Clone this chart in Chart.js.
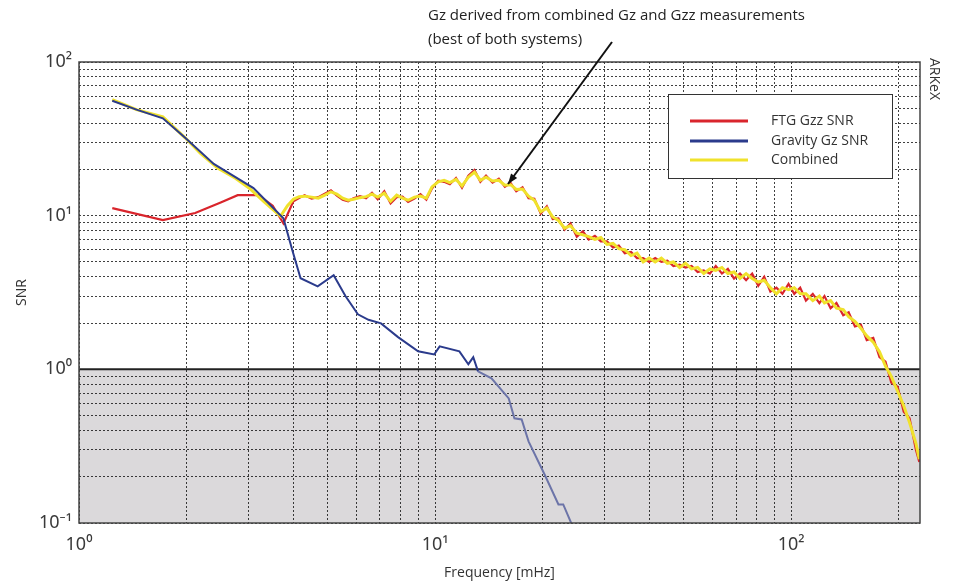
<!DOCTYPE html>
<html>
<head>
<meta charset="utf-8">
<title>SNR vs frequency</title>
<script src="https://cdn.jsdelivr.net/npm/chart.js@4.4.1/dist/chart.umd.min.js"></script>
<style>
  body { margin: 0; background: #fff; }
  canvas { display: block; }
</style>
</head>
<body>
<canvas id="snrChart" width="962" height="584"></canvas>
<script>
// Axis ticks
const xTicks = [1, 2, 3, 4, 5, 6, 7, 8, 9, 10, 20, 30, 40, 50, 60, 70, 80, 90, 100, 200];
const yTicks = [0.1, 0.2, 0.3, 0.4, 0.5, 0.6, 0.7, 0.8, 0.9, 1, 2, 3, 4, 5, 6, 7, 8, 9,
                10, 20, 30, 40, 50, 60, 70, 80, 90, 100];
const tickLabels = { "0.1": "10⁻¹", "1": "10⁰", "10": "10¹", "100": "10²" };

// Gravity Gz SNR
const freqGravity = [1.24, 1.45, 1.72, 1.99, 2.39, 3.09, 3.75, 3.98, 4.19, 4.68,
                     5.19, 5.6, 6.07, 6.5, 7.05, 7.87, 8.96, 9.94, 10.3, 11.7,
                     12.4, 12.8, 13.2, 14.4, 16.1, 16.7, 17.5, 18.3, 20.3, 22.2,
                     22.9, 24.2];
const snrGravity = [56, 49, 43, 32, 21.7, 15.1, 9.6, 5.87, 3.92, 3.47,
                    4.10, 3.0, 2.28, 2.1, 1.99, 1.62, 1.31, 1.25, 1.41, 1.31,
                    1.08, 1.20, 0.97, 0.874, 0.647, 0.48, 0.472, 0.34, 0.207, 0.132,
                    0.132, 0.098];

// low-frequency parts of FTG and combined curves
const freqFtgLow = [1.24, 1.72, 2.12, 2.5, 2.79, 3.19, 3.5, 3.75];
const snrFtgLow = [11.2, 9.35, 10.4, 12.2, 13.6, 13.6, 11.6, 8.9];
const freqCombLow = [1.24, 1.45, 1.72, 1.99, 2.19, 2.45, 2.75, 3.03, 3.3, 3.68, 3.85];
const snrCombLow = [57, 49, 44, 32, 25.5, 20.4, 17.5, 14.9, 12.4, 9.9, 11.6];

// shared frequencies above 4 mHz
const freqHigh = [4.0, 4.15, 4.3, 4.5, 4.7, 4.9, 5.1, 5.3, 5.5, 5.7,
  5.9, 6.15, 6.4, 6.65, 6.9, 7.2, 7.5, 7.8, 8.1, 8.4,
  8.75, 9.1, 9.45, 9.8, 10.2, 10.6, 11.0, 11.45, 11.9, 12.4,
  12.9, 13.4, 13.9, 14.5, 15.1, 15.7, 16.3, 16.9, 17.6, 18.3,
  19.0, 19.8, 20.6, 21.4, 22.2, 23.1, 24.0, 25.0, 26.0, 27.0,
  28.1, 29.2, 30.4, 31.6, 32.8, 34.1, 35.5, 36.9, 38.4, 39.9,
  41.5, 43.2, 44.9, 46.7, 48.6, 50.5, 52.5, 54.6, 56.8, 59.1,
  61.4, 63.9, 66.4, 69.1, 71.8, 74.7, 77.7, 80.8, 84.0, 87.4,
  90.9, 94.5, 98.3, 102, 106, 110, 115, 120, 124, 129,
  134, 140, 145, 151, 157, 163, 170, 177, 184, 191,
  199, 207, 215, 224, 229];
const snrCombHigh = [12.8, 13.3, 13.4, 13.2, 13.0, 13.6, 14.3, 13.8, 13.0, 12.6,
  12.8, 13.1, 13.3, 13.8, 13.2, 14.0, 12.4, 13.6, 13.0, 12.6,
  13.2, 13.4, 13.0, 15.4, 16.6, 17.0, 16.4, 17.2, 15.6, 17.8,
  19.2, 17.0, 17.8, 16.8, 17.0, 15.8, 15.9, 14.8, 14.9, 13.4,
  12.6, 10.6, 11.2, 9.8, 9.3, 8.3, 8.6, 7.7, 7.5, 7.3,
  7.0, 7.2, 6.5, 6.6, 6.1, 6.0, 5.5, 5.7, 5.0, 5.3,
  5.0, 5.3, 4.9, 5.0, 4.6, 4.9, 4.5, 4.6, 4.2, 4.5,
  4.4, 4.6, 4.2, 4.3, 3.9, 4.2, 3.9, 3.7, 3.8, 3.4,
  3.1, 3.4, 3.3, 3.4, 3.1, 3.1, 2.8, 3.0, 2.7, 2.8,
  2.5, 2.45, 2.2, 2.05, 1.85, 1.65, 1.5, 1.3, 1.05, 0.9,
  0.72, 0.58, 0.45, 0.33, 0.26];
const snrFtgHigh = [12.4, 13.0, 13.6, 12.9, 13.2, 13.9, 14.6, 13.5, 12.7, 12.4,
  13.0, 13.4, 13.0, 14.1, 12.8, 14.4, 12.0, 13.2, 13.3, 12.3,
  12.9, 13.8, 12.7, 15.0, 16.9, 16.6, 16.0, 17.6, 15.2, 18.2,
  19.8, 16.6, 18.2, 16.4, 17.4, 15.4, 16.3, 14.4, 15.3, 13.0,
  12.9, 10.3, 11.5, 9.5, 9.6, 8.1, 8.9, 7.3, 7.9, 7.0,
  7.4, 6.8, 6.8, 6.2, 6.4, 5.7, 5.8, 5.3, 5.3, 5.0,
  5.3, 5.0, 5.1, 4.7, 4.8, 4.6, 4.7, 4.3, 4.4, 4.2,
  4.7, 4.2, 4.5, 3.9, 4.2, 3.8, 4.2, 3.5, 4.0, 3.2,
  3.4, 3.1, 3.6, 3.1, 3.4, 2.8, 3.1, 2.7, 3.0, 2.5,
  2.7, 2.25, 2.35, 1.9, 1.95, 1.55, 1.6, 1.2, 1.12, 0.82,
  0.77, 0.53, 0.48, 0.3, 0.25];

const seriesNames = ["FTG Gzz SNR", "Gravity Gz SNR", "Combined"];
const seriesColors = ["#d9252c", "#2b3b8c", "#f0e22c"];

function toPoints(xs, ys) {
  return xs.map((x, i) => ({ x: x, y: ys[i] }));
}

const decor = {
  id: "decor",
  beforeDraw(chart) {
    const { ctx, chartArea: a, scales } = chart;
    const y1 = scales.y.getPixelForValue(1);
    ctx.save();
    ctx.fillStyle = "#dbd9db";
    ctx.fillRect(a.left, y1, a.right - a.left, a.bottom - y1);
    ctx.restore();
  },
  beforeDatasetsDraw(chart) {
    const { ctx, chartArea: a, scales } = chart;
    const y1 = scales.y.getPixelForValue(1);
    ctx.save();
    ctx.strokeStyle = "#222";
    ctx.lineWidth = 2;
    ctx.beginPath();
    ctx.moveTo(a.left, y1);
    ctx.lineTo(a.right, y1);
    ctx.stroke();
    ctx.restore();
  },
  afterDraw(chart) {
    const { ctx, chartArea: a } = chart;
    ctx.save();
    // plot frame
    ctx.strokeStyle = "#444";
    ctx.lineWidth = 1.5;
    ctx.strokeRect(a.left, a.top, a.right - a.left, a.bottom - a.top);

    // legend box
    ctx.fillStyle = "#fff";
    ctx.fillRect(668, 94, 224, 84);
    ctx.strokeStyle = "#333";
    ctx.lineWidth = 1;
    ctx.strokeRect(668.5, 94.5, 224, 84);
    ctx.font = '14px "Open Sans"';
    ctx.textBaseline = "middle";
    const rows = [121, 141, 160];
    seriesNames.forEach((name, i) => {
      ctx.strokeStyle = seriesColors[i];
      ctx.lineWidth = 3;
      ctx.beginPath();
      ctx.moveTo(690, rows[i]);
      ctx.lineTo(748, rows[i]);
      ctx.stroke();
      ctx.fillStyle = "#333";
      ctx.fillText(name, 771, rows[i]);
    });

    // annotation and arrow
    ctx.fillStyle = "#222";
    ctx.font = '15px "Open Sans"';
    ctx.fillText("Gz derived from combined Gz and Gzz measurements", 428, 16);
    ctx.fillText("(best of both systems)", 428, 40);
    const x0 = 612, yA = 42, x1 = 508, yB = 184;
    ctx.strokeStyle = "#111";
    ctx.lineWidth = 2;
    ctx.beginPath();
    ctx.moveTo(x0, yA);
    ctx.lineTo(x1, yB);
    ctx.stroke();
    const ang = Math.atan2(yB - yA, x1 - x0);
    ctx.fillStyle = "#111";
    ctx.beginPath();
    ctx.moveTo(x1, yB);
    ctx.lineTo(x1 - 11 * Math.cos(ang - 0.35), yB - 11 * Math.sin(ang - 0.35));
    ctx.lineTo(x1 - 11 * Math.cos(ang + 0.35), yB - 11 * Math.sin(ang + 0.35));
    ctx.closePath();
    ctx.fill();

    // watermark
    ctx.font = '14px "Open Sans"';
    ctx.translate(934, 58);
    ctx.rotate(Math.PI / 2);
    ctx.fillStyle = "#333";
    ctx.textBaseline = "middle";
    ctx.fillText("ARKeX", 0, 0);
    ctx.restore();
  }
};

const gridStyle = {
  color: "rgba(0,0,0,0.75)",
  lineWidth: 1,
  drawTicks: false
};

const ctx = document.getElementById("snrChart").getContext("2d");
const snrChart = new Chart(ctx, {
  type: "line",
  data: {
    datasets: [
      {
        label: seriesNames[1],
        data: toPoints(freqGravity, snrGravity),
        borderColor: seriesColors[1],
        borderWidth: 2,
        order: 0,
        segment: {
          borderColor: c => (c.p0.parsed.y < 1.0 ? "#6c74a8" : seriesColors[1])
        }
      },
      {
        label: seriesNames[0],
        data: toPoints(freqFtgLow.concat(freqHigh), snrFtgLow.concat(snrFtgHigh)),
        borderColor: seriesColors[0],
        borderWidth: 2.2,
        order: 2
      },
      {
        label: seriesNames[2],
        data: toPoints(freqCombLow.concat(freqHigh), snrCombLow.concat(snrCombHigh)),
        borderColor: seriesColors[2],
        borderWidth: 3,
        order: 1
      }
    ]
  },
  options: {
    responsive: false,
    animation: false,
    devicePixelRatio: 1,
    layout: { padding: { top: 62, right: 42, left: 0, bottom: 0 } },
    elements: { point: { radius: 0 }, line: { tension: 0 } },
    plugins: { legend: { display: false }, tooltip: { enabled: false } },
    scales: {
      x: {
        type: "logarithmic",
        min: 1,
        max: 230,
        afterBuildTicks: s => { s.ticks = xTicks.map(v => ({ value: v })); },
        afterFit: s => { s.height = 61; },
        grid: gridStyle,
        border: { display: false, dash: [2, 2] },
        ticks: {
          autoSkip: false,
          maxRotation: 0,
          padding: 11,
          color: "#3a3a3a",
          font: { family: "Noto Sans", size: 18 },
          callback: v => tickLabels[String(v)] || ""
        },
        title: {
          display: true,
          text: "Frequency [mHz]",
          color: "#333",
          font: { family: "Open Sans", size: 14 },
          padding: { top: 0, bottom: 3 }
        }
      },
      y: {
        type: "logarithmic",
        min: 0.1,
        max: 100,
        afterBuildTicks: s => { s.ticks = yTicks.map(v => ({ value: v })); },
        afterFit: s => { s.width = 79; },
        grid: gridStyle,
        border: { display: false, dash: [2, 2] },
        ticks: {
          autoSkip: false,
          padding: 7,
          color: "#3a3a3a",
          font: { family: "Noto Sans", size: 18 },
          callback: v => tickLabels[String(v)] || ""
        },
        title: {
          display: true,
          text: "SNR",
          color: "#333",
          font: { family: "Open Sans", size: 14 },
          padding: { top: 14, bottom: 0 }
        }
      }
    }
  },
  plugins: [decor]
});
</script>
</body>
</html>
